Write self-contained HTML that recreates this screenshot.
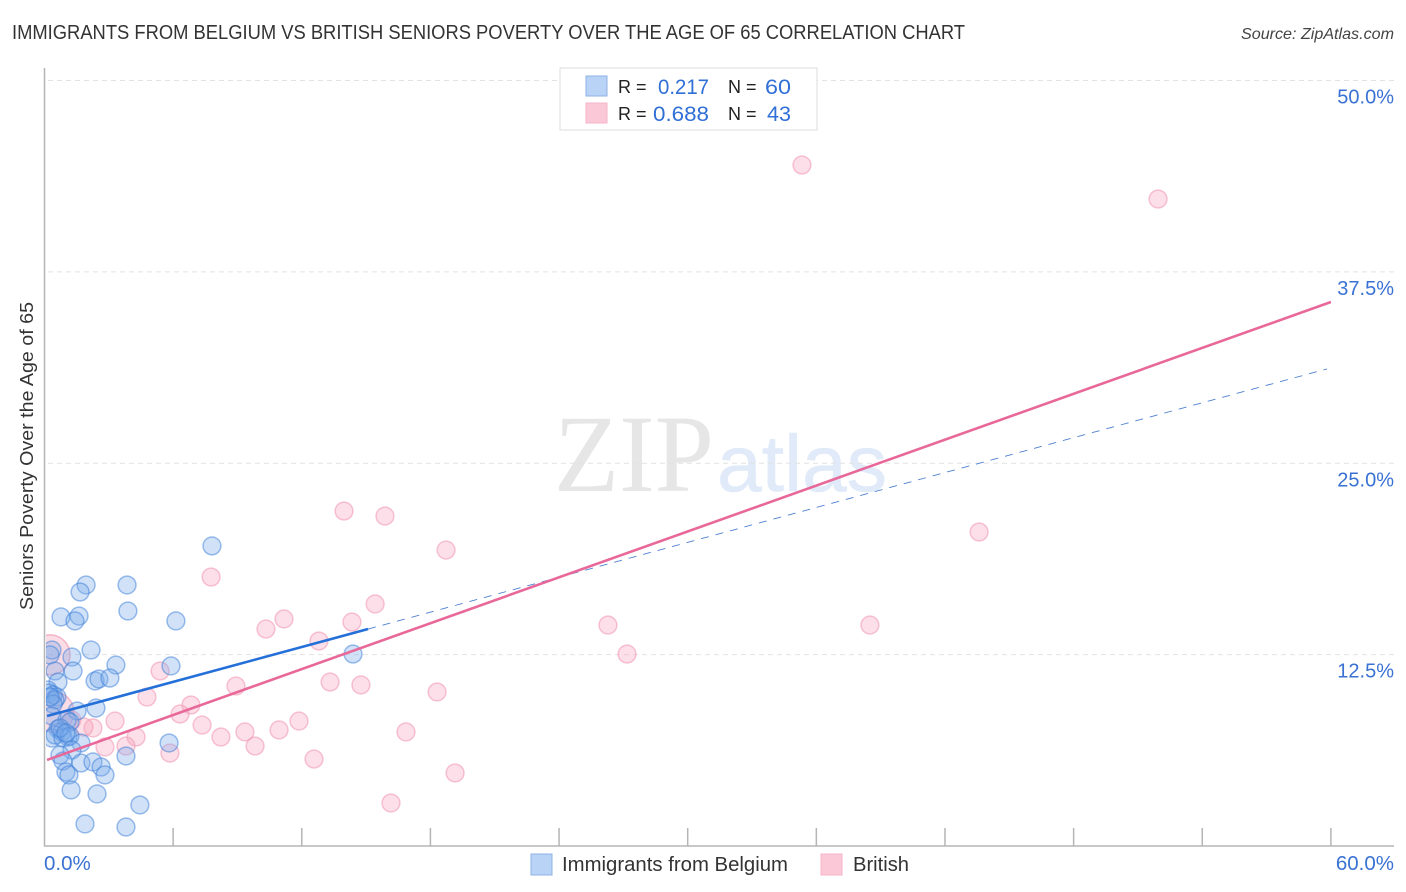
<!DOCTYPE html>
<html lang="en">
<head>
<meta charset="utf-8">
<title>Immigrants from Belgium vs British Seniors Poverty Chart</title>
<style>
html,body{margin:0;padding:0;background:#fff;}
svg{display:block;font-family:"Liberation Sans",sans-serif;}
</style>
</head>
<body>
<svg id="chart" width="1406" height="892" viewBox="0 0 1406 892" xmlns="http://www.w3.org/2000/svg">
  <rect width="1406" height="892" fill="#fff"/>
  <text x="12" y="39" font-size="20" fill="#333" textLength="953" lengthAdjust="spacingAndGlyphs">IMMIGRANTS FROM BELGIUM VS BRITISH SENIORS POVERTY OVER THE AGE OF 65 CORRELATION CHART</text>
  <text x="1394" y="39" font-size="16" font-style="italic" fill="#444" text-anchor="end" textLength="153" lengthAdjust="spacingAndGlyphs">Source: ZipAtlas.com</text>
  <text x="554" y="491" font-family="'Liberation Serif',serif" font-size="110" fill="#e6e6e6" textLength="160" lengthAdjust="spacingAndGlyphs">ZIP</text>
  <text x="717" y="491" font-size="80" fill="#e0eaf9" stroke="#e0eaf9" stroke-width="0.6" textLength="170" lengthAdjust="spacingAndGlyphs">atlas</text>
  <g id="grid"></g>
  <g id="points"></g>
  <rect x="0" y="60" width="46" height="786" fill="#ffffff"/>
  <g id="axes"></g>
  <g id="trends"></g>
  <text transform="translate(33,456) rotate(-90)" font-size="18.5" fill="#333" text-anchor="middle" textLength="308" lengthAdjust="spacingAndGlyphs">Seniors Poverty Over the Age of 65</text>

  <g>
    <rect x="560" y="68" width="257" height="62" fill="#fff" stroke="#dcdcdc" stroke-width="1"/>
    <rect x="586" y="76" width="21" height="20" fill="#b9d3f7" stroke="#8fb2e6" stroke-width="1"/>
    <rect x="586" y="103" width="21" height="20" fill="#fbc8d8" stroke="#f4b4c8" stroke-width="1"/>
    <text x="618" y="93" font-size="18" fill="#222">R =</text>
    <text x="709" y="94" font-size="21.5" fill="#2f6fd6" text-anchor="end" textLength="51" lengthAdjust="spacingAndGlyphs">0.217</text>
    <text x="728" y="93" font-size="18" fill="#222">N =</text>
    <text x="791" y="94" font-size="21.5" fill="#2f6fd6" text-anchor="end" textLength="26" lengthAdjust="spacingAndGlyphs">60</text>
    <text x="618" y="120" font-size="18" fill="#222">R =</text>
    <text x="709" y="121" font-size="21.5" fill="#2f6fd6" text-anchor="end" textLength="56" lengthAdjust="spacingAndGlyphs">0.688</text>
    <text x="728" y="120" font-size="18" fill="#222">N =</text>
    <text x="791" y="121" font-size="21.5" fill="#2f6fd6" text-anchor="end" textLength="24" lengthAdjust="spacingAndGlyphs">43</text>
  </g>

  <g>
    <rect x="531" y="854" width="21" height="21" fill="#b9d3f7" stroke="#8fb2e6" stroke-width="1"/>
    <text x="562" y="871" font-size="20" fill="#333" textLength="226" lengthAdjust="spacingAndGlyphs">Immigrants from Belgium</text>
    <rect x="821" y="854" width="21" height="21" fill="#fbc8d8" stroke="#f4b4c8" stroke-width="1"/>
    <text x="853" y="871" font-size="20" fill="#333" textLength="56" lengthAdjust="spacingAndGlyphs">British</text>
  </g>
</svg>
<script>
const xTicks = [0, 6, 12, 18, 24, 30, 36, 42, 48, 54, 60];
const yTicks = [12.5, 25, 37.5, 50];
const xEdgeLabels = ["0.0%", "60.0%"];
const yTickLabels = ["12.5%", "25.0%", "37.5%", "50.0%"];

const belgiumX = [7.81,3.85,1.94,1.66,3.89,0.77,1.61,1.42,6.13,14.39,2.17,0.35,0.26,1.28,3.33,5.9,1.33,0.49,0.63,2.36,2.54,3.05,0.16,0.21,0.4,0.58,0.49,0.4,2.4,1.52,0.35,1.05,1.19,0.63,0.82,1.1,0.35,0.49,0.86,1.19,1.7,1.28,5.81,3.8,0.72,0.86,1.7,2.26,2.64,2.82,1.0,1.14,1.24,2.45,4.45,1.89,3.8,0.72,1.0,0.26];
const belgiumY = [19.6,17.05,17.05,16.59,15.35,14.96,15.02,14.7,14.7,12.54,12.8,12.8,12.48,12.34,11.82,11.76,11.43,11.43,10.71,10.78,10.91,10.97,10.19,9.99,9.86,9.73,9.54,9.27,9.01,8.82,8.49,8.23,8.1,7.64,7.45,7.12,7.05,7.25,7.05,7.18,6.73,6.27,6.73,5.88,5.94,5.55,5.42,5.49,5.16,4.64,4.83,4.64,3.66,3.4,2.68,1.44,1.24,7.71,7.38,9.73];
const britishX = [35.33,51.94,13.97,15.88,18.73,43.59,7.77,15.42,11.17,10.33,14.34,12.8,26.28,38.5,27.17,5.39,8.93,13.32,14.76,18.31,4.78,6.83,6.32,1.28,3.29,11.87,7.35,16.86,9.35,10.94,8.23,4.27,2.26,1.84,3.8,2.82,9.82,5.85,12.57,19.15,16.16];
const britishY = [44.48,42.26,21.88,21.55,19.33,20.51,17.57,15.81,14.83,14.17,14.63,13.39,14.43,14.43,12.54,11.43,10.45,10.71,10.52,10.06,9.73,9.21,8.62,8.23,8.16,8.16,7.9,7.45,7.45,7.58,7.12,7.12,7.71,7.77,6.53,6.47,6.53,6.07,5.68,4.77,2.81];
const britishLargeX = [0.26, 0.44];
const britishLargeY = [12.48, 8.75];

const belgiumSolidTrendX = [0.12, 15.09];
const belgiumSolidTrendY = [8.49, 14.17];
const belgiumDashedTrendX = [15.09, 59.82];
const belgiumDashedTrendY = [14.17, 31.16];
const britishTrendX = [0.12, 60];
const britishTrendY = [5.62, 35.53];

const NS = "http://www.w3.org/2000/svg";
function xScale(v) { return 44.5 + v * 21.44; }
function yScale(v) { return 846 - v * 15.31; }
function make(tag, attrs, parent) {
  const el = document.createElementNS(NS, tag);
  for (const k in attrs) el.setAttribute(k, attrs[k]);
  parent.appendChild(el);
  return el;
}

const grid = document.getElementById("grid");
yTicks.forEach(function (t, i) {
  const line = make("line", { x1: 48, x2: 1394, y1: yScale(t), y2: yScale(t), stroke: "#e2e2e2", "stroke-width": 1, "stroke-dasharray": "5 4" }, grid);
  
  
  const label = make("text", { x: 1394, y: yScale(t) + 23, "font-size": 20, fill: "#3a72d4", "text-anchor": "end" }, grid);
  
  
  label.textContent = yTickLabels[i];
});

const axes = document.getElementById("axes");
const yAxisLine = make("line", { x1: 44.5, x2: 44.5, y1: 68, y2: 846.5, stroke: "#b5b5b5", "stroke-width": 1.5 }, axes);


const xAxisLine = make("line", { x1: 44, x2: 1394, y1: 846, y2: 846, stroke: "#b5b5b5", "stroke-width": 1.5 }, axes);


xTicks.slice(1).forEach(function (t) {
  const tick = make("line", { x1: xScale(t), x2: xScale(t), y1: 828, y2: 846, stroke: "#b5b5b5", "stroke-width": 1.5 }, axes);
  
  
});
const xLabelLeft = make("text", { x: 44, y: 870, "font-size": 20.5, fill: "#3a72d4" }, axes);


xLabelLeft.textContent = xEdgeLabels[0];
const xLabelRight = make("text", { x: 1394, y: 870, "font-size": 20.5, fill: "#3a72d4", "text-anchor": "end" }, axes);


xLabelRight.textContent = xEdgeLabels[1];

const points = document.getElementById("points");
britishLargeX.forEach(function (x, i) {
  const c = make("circle", { cx: xScale(x), cy: yScale(britishLargeY[i]), r: 20, fill: "rgba(246,165,190,0.38)", stroke: "rgba(240,150,178,0.65)", "stroke-width": 1.5 }, points);
  
  
});
britishX.forEach(function (x, i) {
  const c = make("circle", { cx: xScale(x), cy: yScale(britishY[i]), r: 8.9, fill: "rgba(246,165,190,0.36)", stroke: "rgba(240,150,178,0.55)", "stroke-width": 1.5 }, points);
  
  
});
belgiumX.forEach(function (x, i) {
  const c = make("circle", { cx: xScale(x), cy: yScale(belgiumY[i]), r: 8.9, fill: "rgba(120,170,235,0.34)", stroke: "rgba(60,125,215,0.5)", "stroke-width": 1.5 }, points);
  
  
});

const trends = document.getElementById("trends");
const dashedTrend = make("line", { x1: xScale(belgiumDashedTrendX[0]), y1: yScale(belgiumDashedTrendY[0]), x2: xScale(belgiumDashedTrendX[1]), y2: yScale(belgiumDashedTrendY[1]), stroke: "#4f80d0", "stroke-width": 0.9, "stroke-dasharray": "8 7" }, trends);


const britishTrend = make("line", { x1: xScale(britishTrendX[0]), y1: yScale(britishTrendY[0]), x2: xScale(britishTrendX[1]), y2: yScale(britishTrendY[1]), stroke: "#e8689a", "stroke-width": 2.6 }, trends);


const belgiumTrend = make("line", { x1: xScale(belgiumSolidTrendX[0]), y1: yScale(belgiumSolidTrendY[0]), x2: xScale(belgiumSolidTrendX[1]), y2: yScale(belgiumSolidTrendY[1]), stroke: "#2470d8", "stroke-width": 2.6 }, trends);


</script>
</body>
</html>
